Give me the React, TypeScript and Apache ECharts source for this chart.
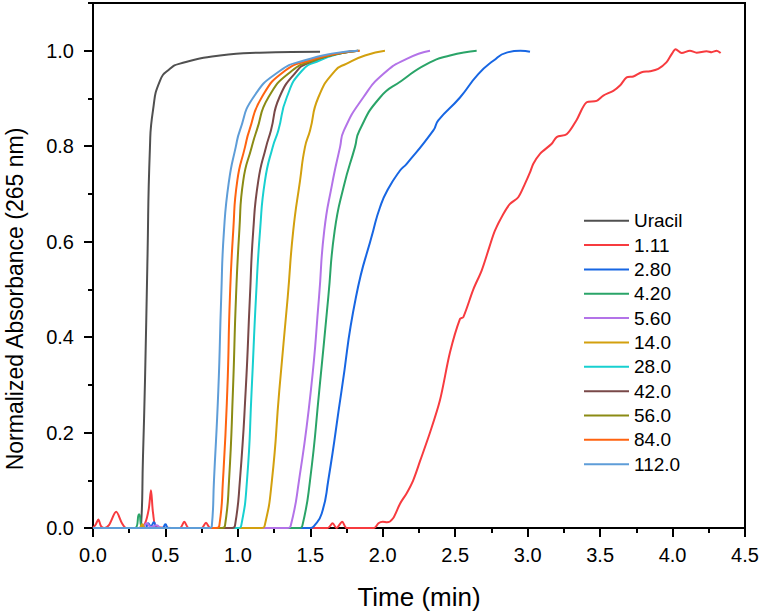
import React, { useEffect, useRef } from "react";
import * as echarts from "echarts";

type Pt = [number, number];

// Elution profiles: [time (min), normalized absorbance at 265 nm]
const uracil: Pt[] = [
  [0, 0], [0.31, 0], [0.331, 0.003], [0.345, 0.15], [0.359, 0.31], [0.375, 0.55],
  [0.393, 0.797], [0.414, 0.875], [0.462, 0.937], [0.531, 0.962], [0.6, 0.973],
  [0.876, 0.99], [1.15, 0.996], [1.567, 0.998],
];

const c111: Pt[] = [
  [0, 0], [0.02, 0.008], [0.037, 0.018], [0.055, 0.004], [0.08, 0], [0.11, 0.006],
  [0.16, 0.034], [0.2, 0.01], [0.23, 0], [0.33, 0], [0.36, 0.01], [0.385, 0.04],
  [0.4, 0.079], [0.415, 0.03], [0.44, 0.002], [0.6, 0], [0.63, 0.013], [0.66, 0],
  [0.75, 0], [0.78, 0.011], [0.81, 0], [1.62, 0], [1.654, 0.01], [1.68, 0],
  [1.72, 0.013], [1.75, 0], [1.94, 0], [1.97, 0.01], [2.0, 0.013], [2.029, 0.012],
  [2.07, 0.02], [2.119, 0.051], [2.165, 0.073], [2.21, 0.1], [2.257, 0.14],
  [2.326, 0.2], [2.395, 0.268], [2.464, 0.368], [2.533, 0.438], [2.556, 0.442],
  [2.625, 0.5], [2.683, 0.54], [2.735, 0.588], [2.774, 0.623], [2.832, 0.658],
  [2.878, 0.679], [2.935, 0.693], [2.981, 0.721], [3.016, 0.745], [3.039, 0.763],
  [3.085, 0.784], [3.166, 0.805], [3.2, 0.819], [3.269, 0.825], [3.338, 0.855],
  [3.407, 0.892], [3.476, 0.895], [3.522, 0.906], [3.591, 0.916], [3.637, 0.927],
  [3.683, 0.944], [3.729, 0.946], [3.787, 0.955], [3.844, 0.957], [3.901, 0.962],
  [3.959, 0.976], [3.994, 0.993], [4.021, 1.003], [4.063, 0.995], [4.12, 1.0],
  [4.166, 0.996], [4.235, 0.999], [4.27, 0.997], [4.304, 1.0], [4.332, 0.995],
];

const c280: Pt[] = [
  [0, 0], [0.36, 0], [0.38, 0.01], [0.4, 0.004], [0.42, 0.012], [0.44, 0], [0.48, 0],
  [0.5, 0.008], [0.52, 0], [1.5, 0], [1.525, 0.004], [1.578, 0.03], [1.624, 0.1],
  [1.716, 0.289], [1.815, 0.484], [1.934, 0.623], [1.981, 0.672], [2.031, 0.707],
  [2.119, 0.749], [2.165, 0.763], [2.349, 0.833], [2.383, 0.854], [2.533, 0.902],
  [2.659, 0.951], [2.763, 0.979], [2.855, 0.996], [2.95, 1.0], [3.016, 0.998],
];

const c420: Pt[] = [
  [0, 0], [0.29, 0], [0.318, 0.029], [0.345, 0], [1.42, 0], [1.445, 0.005],
  [1.498, 0.1], [1.562, 0.289], [1.624, 0.484], [1.668, 0.623], [1.73, 0.715],
  [1.808, 0.798], [1.839, 0.833], [1.981, 0.902], [2.13, 0.937], [2.303, 0.972],
  [2.464, 0.99], [2.648, 1.0],
];

const c560: Pt[] = [
  [0, 0], [0.34, 0], [0.37, 0.01], [0.4, 0.002], [0.44, 0.006], [0.47, 0],
  [1.34, 0], [1.365, 0.005], [1.422, 0.1], [1.504, 0.289], [1.56, 0.484],
  [1.596, 0.623], [1.65, 0.72], [1.705, 0.798], [1.732, 0.833], [1.865, 0.902],
  [2.003, 0.951], [2.165, 0.983], [2.326, 1.0],
];

const c14: Pt[] = [
  [0, 0], [0.32, 0], [0.34, 0.008], [0.36, 0], [1.16, 0], [1.185, 0.005],
  [1.235, 0.1], [1.286, 0.289], [1.344, 0.484], [1.382, 0.623], [1.429, 0.728],
  [1.463, 0.798], [1.498, 0.833], [1.555, 0.902], [1.67, 0.958], [1.751, 0.973],
  [1.877, 0.99], [2.015, 1.0],
];

const c28: Pt[] = [
  [0, 0], [1.0, 0], [1.023, 0.005], [1.063, 0.1], [1.095, 0.289], [1.125, 0.484],
  [1.153, 0.623], [1.187, 0.728], [1.24, 0.798], [1.279, 0.833], [1.337, 0.902],
  [1.442, 0.958], [1.567, 0.98], [1.72, 0.995], [1.83, 1.0],
];

const c42: Pt[] = [
  [0, 0], [0.96, 0], [0.98, 0.005], [1.014, 0.1], [1.054, 0.289], [1.083, 0.484],
  [1.106, 0.623], [1.141, 0.728], [1.194, 0.798], [1.228, 0.833], [1.286, 0.902],
  [1.408, 0.958], [1.477, 0.973], [1.636, 0.99], [1.83, 1.0],
];

const c56: Pt[] = [
  [0, 0], [0.89, 0], [0.911, 0.005], [0.939, 0.1], [0.966, 0.289], [0.987, 0.484],
  [1.01, 0.623], [1.037, 0.728], [1.095, 0.798], [1.13, 0.833], [1.21, 0.902],
  [1.373, 0.958], [1.53, 0.98], [1.72, 0.995], [1.84, 1.0],
];

const c84: Pt[] = [
  [0, 0], [0.85, 0], [0.872, 0.005], [0.897, 0.1], [0.927, 0.289], [0.945, 0.484],
  [0.968, 0.623], [0.996, 0.728], [1.049, 0.798], [1.079, 0.833], [1.164, 0.902],
  [1.325, 0.958], [1.5, 0.98], [1.7, 0.995], [1.84, 1.0],
];

const c112: Pt[] = [
  [0, 0], [0.8, 0], [0.82, 0.004], [0.835, 0.1], [0.865, 0.289], [0.885, 0.484],
  [0.904, 0.623], [0.939, 0.728], [0.985, 0.798], [1.014, 0.833], [1.106, 0.902],
  [1.291, 0.958], [1.463, 0.98], [1.67, 0.995], [1.83, 1.0],
];

const seriesNames = ["Uracil", "1.11", "2.80", "4.20", "5.60", "14.0", "28.0", "42.0", "56.0", "84.0", "112.0"];
const seriesData = [uracil, c111, c280, c420, c560, c14, c28, c42, c56, c84, c112];
const seriesColors = [
  "#505050", "#f73b3f", "#1766e3", "#2aa468", "#b373e8", "#d3a00e",
  "#17d0d0", "#794848", "#8b8b14", "#ff6310", "#5e9dd8",
];

const xTicks = [0, 0.5, 1, 1.5, 2, 2.5, 3, 3.5, 4, 4.5];
const yMajorTicks = [0, 0.2, 0.4, 0.6, 0.8, 1.0];
const yMinorTicks = [0.1, 0.3, 0.5, 0.7, 0.9, 1.1];

const FONT = 'Arial, "Liberation Sans", sans-serif';

export default function App() {
  const ref = useRef<HTMLDivElement>(null);

  useEffect(() => {
    if (!ref.current) return;
    const chart = echarts.init(ref.current, undefined, { renderer: "svg" });

    const option = {
      animation: false,
      backgroundColor: "#ffffff",
      grid: {
        left: 93,
        top: 3,
        right: 17,
        bottom: 85,
        show: true,
        borderColor: "#000",
        borderWidth: 2,
        backgroundColor: "transparent",
      },
      legend: {
        orient: "vertical",
        left: 584,
        top: 210.7,
        padding: 0,
        icon: "rect",
        itemWidth: 45,
        itemHeight: 2,
        itemGap: 4.35,
        data: seriesNames,
        textStyle: { fontSize: 19, lineHeight: 20, color: "#000", fontFamily: FONT },
      },
      xAxis: {
        type: "value",
        min: xTicks[0],
        max: xTicks[xTicks.length - 1],
        interval: 0.5,
        axisLine: { lineStyle: { color: "#000", width: 2 } },
        axisTick: { length: 9, lineStyle: { color: "#000", width: 2 } },
        minorTick: { show: true, splitNumber: 2, length: 5, lineStyle: { color: "#000", width: 2 } },
        splitLine: { show: false },
        minorSplitLine: { show: false },
        axisLabel: {
          margin: 17,
          fontSize: 20,
          color: "#000",
          fontFamily: FONT,
          formatter: (v: number) => v.toFixed(1),
        },
      },
      yAxis: [
        {
          type: "value",
          min: 0,
          max: 1.1,
          interval: 0.2,
          axisLine: { show: true, lineStyle: { color: "#000", width: 2 } },
          axisTick: {
            show: true,
            length: 9,
            customValues: yMajorTicks,
            lineStyle: { color: "#000", width: 2 },
          },
          axisLabel: {
            margin: 19,
            fontSize: 20,
            color: "#000",
            fontFamily: FONT,
            customValues: yMajorTicks,
            formatter: (v: number) => v.toFixed(1),
          },
          splitLine: { show: false },
        },
        {
          type: "value",
          min: 0,
          max: 1.1,
          position: "left",
          axisLine: { show: false },
          axisTick: {
            show: true,
            length: 5,
            customValues: yMinorTicks,
            lineStyle: { color: "#000", width: 2 },
          },
          axisLabel: { show: false },
          splitLine: { show: false },
        },
      ],
      series: seriesNames.map((name, i) => ({
        name,
        type: "line",
        data: seriesData[i],
        yAxisIndex: 0,
        showSymbol: false,
        symbol: "none",
        smooth: i === 1 ? 0.3 : 0.55,
        color: seriesColors[i],
        itemStyle: { color: seriesColors[i] },
        lineStyle: { color: seriesColors[i], width: 2 },
      })),
      graphic: [
        {
          type: "text",
          x: 419,
          y: 597,
          style: {
            text: "Time (min)",
            fontSize: 26,
            fontFamily: FONT,
            fill: "#000",
            align: "center",
            verticalAlign: "middle",
          },
        },
        {
          type: "text",
          x: 15,
          y: 299,
          rotation: Math.PI / 2,
          style: {
            text: "Normalized Absorbance (265 nm)",
            fontSize: 23,
            fontFamily: FONT,
            fill: "#000",
            align: "center",
            verticalAlign: "middle",
          },
        },
      ],
    };

    chart.setOption(option as any);
    return () => chart.dispose();
  }, []);

  return (
    <div
      ref={ref}
      style={{ position: "absolute", left: 0, top: 0, width: 762, height: 613, background: "#fff" }}
    />
  );
}
